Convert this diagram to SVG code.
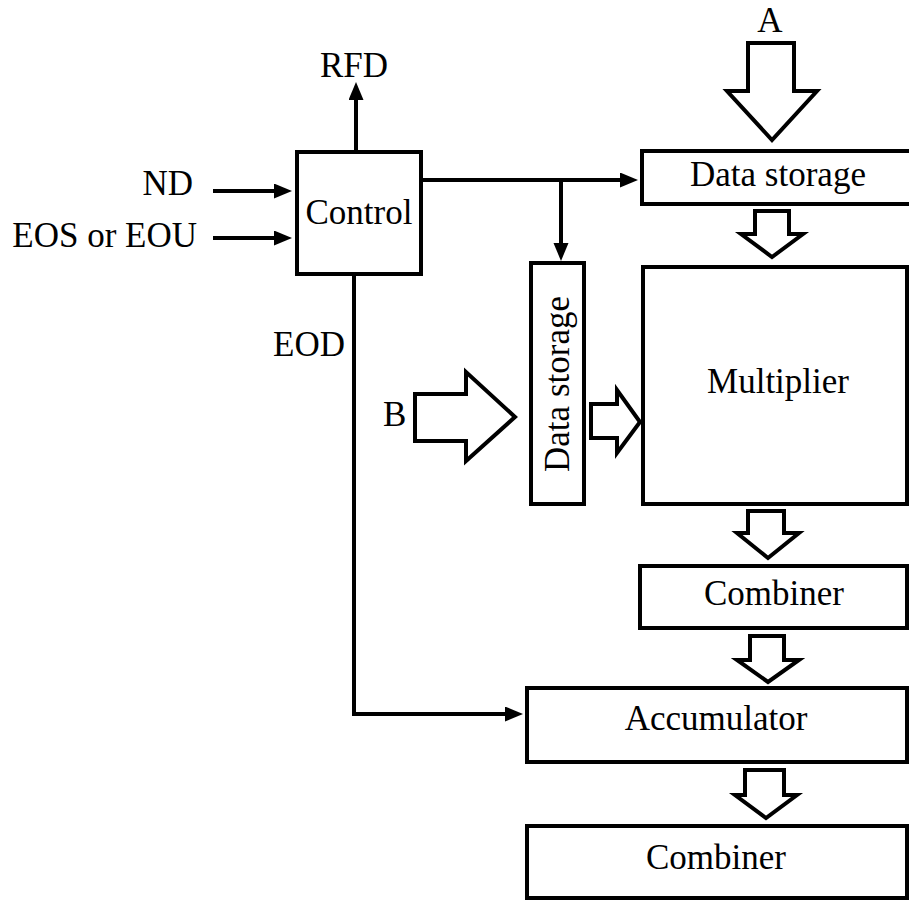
<svg xmlns="http://www.w3.org/2000/svg" width="909" height="900" viewBox="0 0 909 900">
<style>
.box{fill:#fff;stroke:#000;stroke-width:4}
.blk{fill:#fff;stroke:#000;stroke-width:4;stroke-linejoin:miter}
.ln{fill:none;stroke:#000;stroke-width:4}
text{font-family:"Liberation Serif","Times New Roman",serif;font-size:35px;fill:#000}
.m{text-anchor:middle}
.e{text-anchor:end}
</style>
<defs>
<marker id="ah" markerUnits="userSpaceOnUse" markerWidth="20" markerHeight="16" refX="8" refY="7.5" orient="auto">
<path d="M0,0 L18,7.5 L0,15 z" fill="#000"/>
</marker>
</defs>
<rect width="909" height="900" fill="#fff"/>
<g id="connectors">
<path class="ln" d="M356,150 L356,92" marker-end="url(#ah)"/>
<path class="ln" d="M213,191 L282,191" marker-end="url(#ah)"/>
<path class="ln" d="M213,238 L282,238" marker-end="url(#ah)"/>
<path class="ln" d="M421,180 L628,180" marker-end="url(#ah)"/>
<path class="ln" d="M561,180 L561,251" marker-end="url(#ah)"/>
<path class="ln" d="M354,274 L354,714 L513,714" marker-end="url(#ah)"/>
<polygon id="arrowA" class="blk" points="748,43 794,43 794,91 817,91 772,140 727,91 748,91"/>
<polygon class="blk" points="755,211 789,211 789,234 803,234 772,257 741,234 755,234"/>
<polygon id="arrowB" class="blk" points="415,394 466,394 466,372 515,417 466,461 466,441 415,441"/>
<polygon class="blk" points="591,404 617,404 617,390 640,422 617,453 617,438 591,438"/>
<polygon class="blk" points="748,511 784,511 784,533 799,533 768,558 737,533 748,533"/>
<polygon class="blk" points="750,636 784,636 784,660 799,660 768,682 737,660 750,660"/>
<polygon class="blk" points="745,770 784,770 784,795 797,795 766,818 735,795 745,795"/>
</g>
<g id="labels">
<text class="m" x="354" y="77">RFD</text>
<text class="e" x="193" y="195">ND</text>
<text class="e" x="197" y="247">EOS or EOU</text>
<text x="273" y="356">EOD</text>
<text class="m" x="770" y="32">A</text>
<text x="383" y="426">B</text>
</g>
<g id="control">
<rect class="box" x="297" y="152" width="124" height="122"/>
<text class="m" x="359" y="224">Control</text>
</g>
<g id="dataStorageA">
<rect class="box" x="642" y="151" width="280" height="53"/>
<text class="m" x="778" y="186">Data storage</text>
</g>
<g id="dataStorageB">
<rect class="box" x="531" y="263" width="53" height="241"/>
<text class="m" transform="translate(569,384) rotate(-90)" x="0" y="0">Data storage</text>
</g>
<g id="multiplier">
<rect class="box" x="643" y="267" width="264" height="237"/>
<text class="m" x="778" y="393">Multiplier</text>
</g>
<g id="combiner1">
<rect class="box" x="640" y="566" width="267" height="62"/>
<text class="m" x="774" y="605">Combiner</text>
</g>
<g id="accumulator">
<rect class="box" x="527" y="688" width="380" height="74"/>
<text class="m" x="716" y="730">Accumulator</text>
</g>
<g id="combiner2">
<rect class="box" x="527" y="826" width="380" height="72"/>
<text class="m" x="716" y="869">Combiner</text>
</g>
</svg>
